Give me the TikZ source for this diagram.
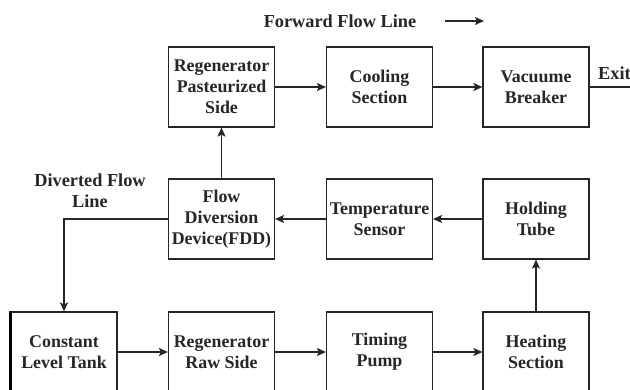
\documentclass[tikz,border=0pt]{standalone}
\usepackage{fontspec}
\setmainfont{Liberation Serif}
\usetikzlibrary{arrows.meta}
\begin{document}
\begin{tikzpicture}[x=1pt,y=-1pt,
  box/.style={draw=black!85, line width=1.2pt, rectangle, minimum width=106pt, minimum height=80pt, inner sep=0pt, align=center, font=\bfseries\fontsize{17.9}{21}\selectfont, text=black!85},
  lbl/.style={align=center, inner sep=0pt, font=\bfseries\fontsize{18.3}{21}\selectfont, text=black!85},
  flow/.style={draw=black!85, line width=1.2pt, -{Stealth[length=9pt,width=8pt,inset=2pt]}},
  plain/.style={draw=black!85, line width=1.2pt}]
\fill[white] (0,0) rectangle (630,389);
\clip (0,0) rectangle (630,389);
\useasboundingbox (0,0) rectangle (630,389);
% top row
\node[box] (rps) at (221.5,87) {Regenerator\\Pasteurized\\Side};
\node[box] (cool) at (379.5,87) {Cooling\\Section};
\node[box] (vac) at (536,87) {Vacuume\\Breaker};
% middle row
\node[box] (fdd) at (221.5,219) {Flow\\Diversion\\Device(FDD)};
\node[box] (temp) at (379.5,219) {Temperature\\Sensor};
\node[box] (hold) at (536,219) {Holding\\Tube};
% bottom row
\node[box] (clt) at (64,352) {Constant\\Level Tank};
\node[box] (rrs) at (221.5,352) {Regenerator\\Raw Side};
\node[box] (tp) at (379.5,352) {Timing\\Pump};
\node[box] (heat) at (536,352) {Heating\\Section};
% labels
\node[lbl] (ffl) at (340,21) {Forward Flow Line};
\node[lbl] (dfl) at (90,190.5) {Diverted Flow\\Line};
\node[lbl, anchor=west] (exit) at (598,73) {Exit};
\coordinate (fa1) at (445,21);
\coordinate (fa2) at (484,21);
\coordinate (exitend) at (632,87);
% thick left edge of the tank
\draw[black, line width=3pt] (clt.north west) ++(0.3,0) -- ++(0,90);
% connectors
\draw[flow] (fa1) -- (fa2);
\draw[flow] (rps) -- (cool);
\draw[flow] (cool) -- (vac);
\draw[plain] (vac.east) -- (exitend);
\draw[flow] (hold) -- (temp);
\draw[flow] (temp) -- (fdd);
\draw[flow] (fdd) -- (rps);
\draw[flow] (fdd.west) -| (clt.north);
\draw[flow] (clt) -- (rrs);
\draw[flow] (rrs) -- (tp);
\draw[flow] (tp) -- (heat);
\draw[flow] (heat) -- (hold);
\end{tikzpicture}
\end{document}
